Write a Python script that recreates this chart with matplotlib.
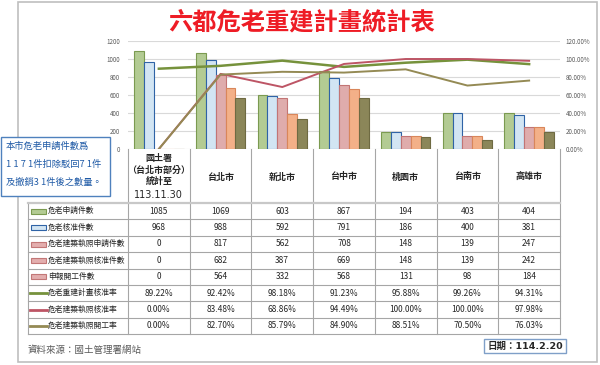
import matplotlib.pyplot as plt
from matplotlib.patches import Rectangle
import numpy as np

plt.rcParams['font.family'] = ['Noto Sans CJK TC', 'DejaVu Sans']

W, H = 600, 365

# 資料
cities = ['國土署\n（台北市部分）\n統計至', '台北市', '新北市', '台中市', '桃園市', '台南市', '高雄市']
first_date = '113.11.30'
row_names = ['危老申請件數', '危老核准件數', '危老建築執照申請件數', '危老建築執照核准件數',
             '申報開工件數', '危老重建計畫核准率', '危老建築執照核准率', '危老建築執照開工率']
apply_cnt = [1085, 1069, 603, 867, 194, 403, 404]
approve_cnt = [968, 988, 592, 791, 186, 400, 381]
permit_apply = [0, 817, 562, 708, 148, 139, 247]
permit_ok = [0, 682, 387, 669, 148, 139, 242]
start_cnt = [0, 564, 332, 568, 131, 98, 184]
plan_rate = [89.22, 92.42, 98.18, 91.23, 95.88, 99.26, 94.31]
permit_rate = [0.00, 83.48, 68.86, 94.49, 100.00, 100.00, 97.98]
start_rate = [0.00, 82.70, 85.79, 84.90, 88.51, 70.50, 76.03]
left_ticks = [0, 200, 400, 600, 800, 1000, 1200]
right_ticks = [0, 20, 40, 60, 80, 100, 120]

bars = [apply_cnt, approve_cnt, permit_apply, permit_ok, start_cnt]
bar_face = ['#b3cb93', '#d2e5f3', '#dfacac', '#f3b088', '#8b8659']
bar_edge = ['#7b9a50', '#2f63a6', '#c27575', '#d9865a', '#6e6a42']
rates = [plan_rate, permit_rate, start_rate]
rate_col = ['#76923c', '#bd5565', '#948a54']
rate_lw = [1.8, 1.4, 1.4]


def px_axes(x0, y0, x1, y1):
    return fig.add_axes([x0 / W, 1 - y1 / H, (x1 - x0) / W, (y1 - y0) / H])


fig = plt.figure(figsize=(6, 3.65), dpi=100)

# 底層（表格、文字）
ov = px_axes(0, 0, W, H)
ov.set_xlim(0, W)
ov.set_ylim(H, 0)
ov.axis('off')

ov.add_patch(Rectangle((18, 2), 579, 360, fill=False, ec='#bfbfbf', lw=1.2))
ov.text(302, 22, '六都危老重建計畫統計表', ha='center', va='center',
        fontsize=17.5, color='#ee1c25', fontweight='bold')

# 表格
x_left, x0, x1 = 28, 128, 560
cw = (x1 - x0) / len(cities)
y_head, y_top = 149, 203
rh = 16.4
grid = '#a6a6a6'
n_rows = len(row_names)
y_bot = y_top + rh * n_rows

for i in range(len(cities) + 1):
    x = x0 + i * cw
    ov.plot([x, x], [y_head, y_bot], color=grid, lw=0.8)
ov.plot([x_left, x_left], [y_top, y_bot], color=grid, lw=0.8)
for r in range(n_rows + 1):
    y = y_top + r * rh
    ov.plot([x_left, x1], [y, y], color='#c8c8c8' if r == 0 else grid,
            lw=1.6 if r == 0 else 0.8)

for i, c in enumerate(cities):
    cx = x0 + (i + 0.5) * cw
    if i == 0:
        ov.text(cx, 170, c, ha='center', va='center', fontsize=6.5,
                fontweight='bold', color='#262626', linespacing=1.25)
        ov.text(cx, 195, first_date, ha='center', va='center', fontsize=7,
                color='#262626', family=['DejaVu Sans', 'Noto Sans CJK TC'])
    else:
        ov.text(cx, 177, c, ha='center', va='center', fontsize=6.5,
                fontweight='bold', color='#262626')

values = bars + rates
for r, vals in enumerate(values):
    cy = y_top + (r + 0.5) * rh
    for i, v in enumerate(vals):
        s = f'{v:.2f}%' if r >= 5 else f'{v}'
        ov.text(x0 + (i + 0.5) * cw, cy, s, ha='center', va='center',
                fontsize=6, color='#262626')
    # 圖例
    if r < 5:
        fc = bar_face[r] if r < 2 else '#e3aeae'
        ec = bar_edge[r] if r < 2 else '#c27777'
        ov.add_patch(Rectangle((31, cy - 2.5), 15, 5, fc=fc, ec=ec, lw=0.8))
    else:
        ov.plot([30, 47], [cy, cy], color=rate_col[r - 5], lw=2)
    ov.text(48, cy, row_names[r], ha='left', va='center', fontsize=5.6,
            color='#262626')

# 說明框
ov.add_patch(Rectangle((1, 137), 109, 59, fc='white', ec='#4f81bd', lw=1, zorder=3))
note = ['本市危老申請件數爲', '1 1 7 1件扣除駁回7 1件', '及撤銷3 1件後之數量。']
for k, t in enumerate(note):
    ov.text(6, 146 + 18 * k, t, ha='left', va='center', fontsize=6.7,
            color='#1f5aa6', zorder=4)

ov.text(27, 350, '資料來源：國土管理署網站', ha='left', va='center',
        fontsize=6.8, color='#595959')
ov.add_patch(Rectangle((484, 339), 82, 14, fc='white', ec='#7f9fc8', lw=1))
ov.text(525, 346, '日期：114.2.20', ha='center', va='center',
        fontsize=6.8, fontweight='bold', color='#262626',
        family=['DejaVu Sans', 'Noto Sans CJK TC'])

# 圖表
ax = px_axes(x0, 41, x1, y_head)
ax.patch.set_alpha(0)
x = np.arange(len(cities))
bw = 0.16
for k, vals in enumerate(bars):
    ax.bar(x + (k - 2) * bw, vals, width=bw, color=bar_face[k],
           edgecolor=bar_edge[k], linewidth=0.8, zorder=2)
ax.set_xlim(-0.5, len(cities) - 0.5)
ax.set_ylim(0, 1200)
ax.set_yticks(left_ticks)
ax.set_yticklabels([str(t) for t in left_ticks], fontsize=4.5, color='#595959')
ax.set_xticks([])
ax.grid(axis='y', color='#d9d9d9', lw=0.8, zorder=0)
ax.tick_params(length=0, pad=6)
for s in ax.spines.values():
    s.set_visible(False)

ax2 = ax.twinx()
for k, vals in enumerate(rates):
    ax2.plot(x, vals, color=rate_col[k], lw=rate_lw[k], zorder=3)
ax2.set_ylim(0, 120)
ax2.set_yticks(right_ticks)
ax2.set_yticklabels([f'{t:.2f}%' for t in right_ticks], fontsize=4.5, color='#595959')
ax2.tick_params(length=0, pad=4)
for s in ax2.spines.values():
    s.set_visible(False)

fig.savefig('out.png', dpi=100)
